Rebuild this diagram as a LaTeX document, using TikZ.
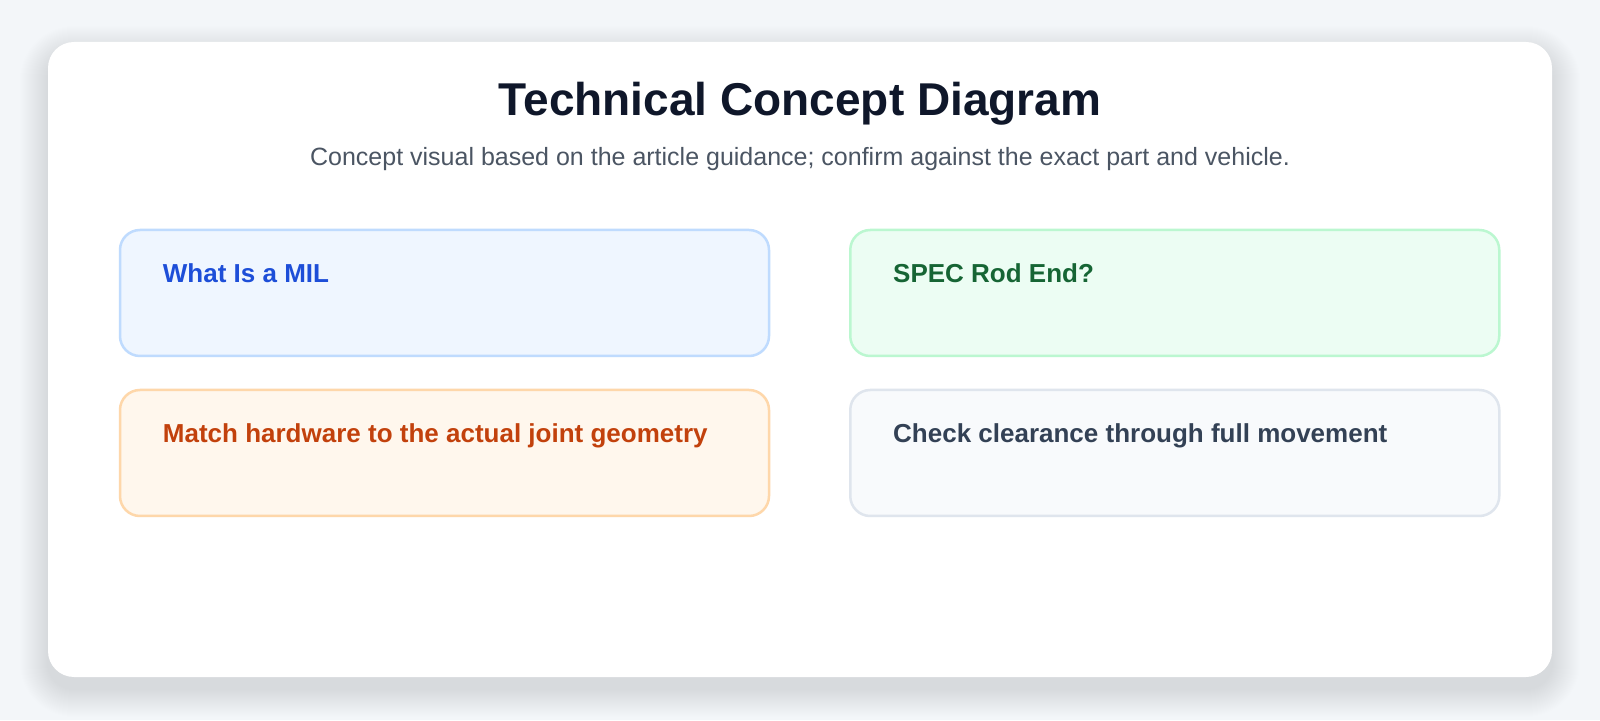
\documentclass[tikz,border=0pt]{standalone}
\usepackage{fontspec}
\setmainfont{Liberation Sans}
\usetikzlibrary{calc}
\definecolor{pagebg}{HTML}{F3F6F9}
\definecolor{titlecol}{HTML}{0F172A}
\definecolor{subcol}{HTML}{4B5563}
\definecolor{bluefill}{HTML}{EFF6FF}
\definecolor{blueline}{HTML}{BFDBFE}
\definecolor{bluetext}{HTML}{1D4ED8}
\definecolor{greenfill}{HTML}{ECFDF3}
\definecolor{greenline}{HTML}{BBF7D0}
\definecolor{greentext}{HTML}{166534}
\definecolor{orangefill}{HTML}{FFF7ED}
\definecolor{orangeline}{HTML}{FED7AA}
\definecolor{orangetext}{HTML}{C2410C}
\definecolor{grayfill}{HTML}{F8FAFC}
\definecolor{grayline}{HTML}{DFE5ED}
\definecolor{graytext}{HTML}{334155}
\definecolor{shadowcol}{HTML}{3A4A50}
\tikzset{
  cardbox/.style={fill=white, draw=none, rounded corners=26pt},
  shadowlayer/.style={fill=shadowcol, fill opacity=0.0042, draw=none},
  conceptbox/.style={rectangle, rounded corners=20pt, line width=2.5pt,
    minimum width=649pt, minimum height=126pt, inner sep=0pt},
  boxlabel/.style={anchor=base west, inner sep=0pt,
    font=\fontsize{26}{30}\selectfont\bfseries},
}
\begin{document}
\begin{tikzpicture}[x=1pt,y=1pt]
  \useasboundingbox (0,0) rectangle (1600,720);
  \fill[pagebg] (0,0) rectangle (1600,720);
  % soft shadow of the card
  \foreach \i in {1,...,28}{
    \path[shadowlayer, rounded corners=26+\i] (48-\i,43-12-\i) rectangle (1552+\i,678-12+\i);
  }
  \path[cardbox] (48,43) rectangle (1552,678);

  \node[anchor=base, inner sep=0pt, text=titlecol,
        font=\fontsize{46}{52}\selectfont\bfseries] (title) at (800,604.3)
        {Technical Concept Diagram};
  \node[anchor=base, inner sep=0pt, text=subcol,
        font=\fontsize{25}{29}\selectfont] (subtitle) at (800,554.3)
        {Concept visual based on the article guidance; confirm against the exact part and vehicle.};

  \node[conceptbox, fill=bluefill, draw=blueline] (b1) at (444.5,427) {};
  \node[conceptbox, fill=greenfill, draw=greenline] (b2) at (1174.75,427) {};
  \node[conceptbox, fill=orangefill, draw=orangeline] (b3) at (444.5,267) {};
  \node[conceptbox, fill=grayfill, draw=grayline] (b4) at (1174.75,267) {};

  \node[boxlabel, text=bluetext] (t1) at ($(b1.north west)+(44,-53.3)$) {What Is a MIL};
  \node[boxlabel, text=greentext] (t2) at ($(b2.north west)+(44,-53.3)$) {SPEC Rod End?};
  \node[boxlabel, text=orangetext] (t3) at ($(b3.north west)+(44,-53.3)$) {Match hardware to the actual joint geometry};
  \node[boxlabel, text=graytext] (t4) at ($(b4.north west)+(44,-53.3)$) {Check clearance through full movement};
\end{tikzpicture}
\end{document}
